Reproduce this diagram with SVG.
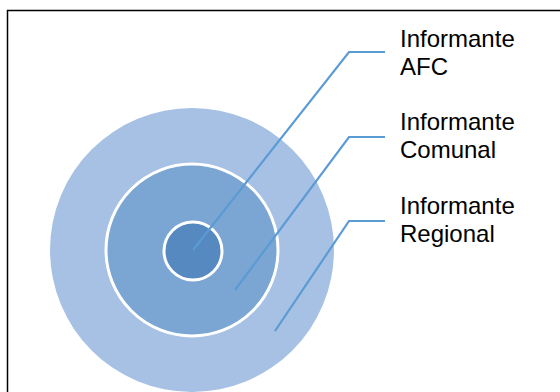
<svg xmlns="http://www.w3.org/2000/svg" width="560" height="392" viewBox="0 0 560 392">
<style>
.lbl{font-family:"Liberation Sans",Arial,sans-serif;font-size:24px;fill:#000}
.ring{stroke:#fff;stroke-width:3}
.conn{fill:none;stroke:#5B9BD5;stroke-width:2.2}
</style>
<rect x="0" y="0" width="560" height="392" fill="#fff"/>
<rect x="7.5" y="10.5" width="600" height="420" fill="none" stroke="#000" stroke-width="1.5"/>
<g id="regional"><circle cx="192" cy="250" r="142" fill="#A6C1E4"/></g>
<g id="comunal"><circle class="ring" cx="192" cy="250" r="86" fill="#7BA6D3"/></g>
<g id="afc"><circle class="ring" cx="193" cy="251" r="29" fill="#5589C0"/></g>
<g id="connectors">
<polyline class="conn" points="193,250 349,52 385,52"/>
<polyline class="conn" points="235,290 349,137 385,137"/>
<polyline class="conn" points="275,331 349,221 385,221"/>
</g>
<g id="label-afc"><text class="lbl" x="400" y="47">Informante</text><text class="lbl" x="400" y="75">AFC</text></g>
<g id="label-comunal"><text class="lbl" x="400" y="130">Informante</text><text class="lbl" x="400" y="158">Comunal</text></g>
<g id="label-regional"><text class="lbl" x="400" y="214">Informante</text><text class="lbl" x="400" y="242">Regional</text></g>
</svg>
